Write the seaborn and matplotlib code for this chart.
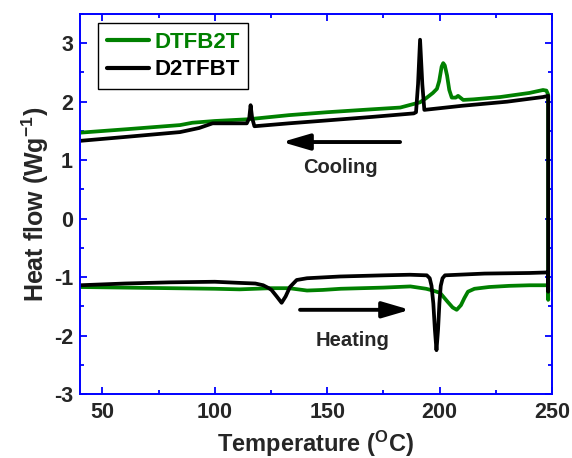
import matplotlib
matplotlib.use("Agg")
import matplotlib.pyplot as plt
from matplotlib.ticker import MultipleLocator, FixedLocator
import numpy as np
import pandas as pd
import seaborn as sns

# DSC traces: heating scan (40 -> 250 °C) then cooling scan (250 -> 40 °C)
dtfb2t_temp = [40, 60, 80, 100, 111, 125, 133, 141, 148, 156, 175, 187, 194, 197,
               200.2, 203.5, 205.8, 207.6, 209.5, 211, 212.6, 215.5, 222, 231, 240,
               248.2, 248.3,
               248.3, 247.5, 246, 240, 227, 215, 210.5, 209.2, 208.2, 207.2, 205.4,
               204.3, 203.3, 202.3, 201.6, 200.9, 199.8, 198.8, 197, 194, 191.3,
               182.5, 170, 150, 133, 115, 100, 90, 84.5, 61, 40]
dtfb2t_flow = [-1.17, -1.18, -1.19, -1.20, -1.21, -1.19, -1.19, -1.23, -1.22, -1.20,
               -1.18, -1.16, -1.20, -1.23, -1.27, -1.42, -1.52, -1.56, -1.48, -1.36,
               -1.25, -1.20, -1.17, -1.15, -1.14, -1.14, -1.39,
               2.12, 2.19, 2.20, 2.15, 2.08, 2.04, 2.03, 2.07, 2.10, 2.07, 2.07,
               2.20, 2.45, 2.62, 2.66, 2.60, 2.35, 2.22, 2.15, 2.06, 1.99,
               1.90, 1.87, 1.82, 1.77, 1.70, 1.67, 1.64, 1.60, 1.53, 1.47]

d2tfbt_temp = [40, 60, 80, 100, 111.4, 118, 121.5, 124, 125.2, 127.5, 129.7, 131.5,
               133.4, 136.4, 141, 155.7, 175, 186.8, 194.3, 195.6, 196.4, 197.2,
               197.9, 198.6, 199.3, 199.9, 200.5, 201.3, 202.4, 220, 240, 248.2, 248.3,
               248.3, 246, 230, 210, 193.2, 192.3, 191.3, 190.4, 189.5, 188.5, 170,
               150, 133, 117.6, 116.6, 115.9, 115.3, 114.2, 110, 99, 93, 84.5, 61, 40]
d2tfbt_flow = [-1.14, -1.11, -1.09, -1.08, -1.10, -1.11, -1.14, -1.19, -1.22, -1.33,
               -1.44, -1.33, -1.17, -1.05, -1.02, -0.99, -0.97, -0.96, -0.97, -1.02,
               -1.15, -1.45, -1.90, -2.25, -1.90, -1.45, -1.15, -1.02, -0.97, -0.94,
               -0.93, -0.92, -1.25,
               2.10, 2.08, 2.00, 1.93, 1.86, 2.30, 3.06, 2.30, 1.82, 1.80, 1.74,
               1.68, 1.63, 1.58, 1.72, 1.94, 1.72, 1.63, 1.63, 1.63, 1.55, 1.48,
               1.40, 1.33]

series_names = ["DTFB2T", "D2TFBT"]
series_colors = ["#008000", "#000000"]
x_ticks = [50, 100, 150, 200, 250]
y_ticks = [-3, -2, -1, 0, 1, 2, 3]

frames = []
for name, t, f in [(series_names[0], dtfb2t_temp, dtfb2t_flow),
                   (series_names[1], d2tfbt_temp, d2tfbt_flow)]:
    frames.append(pd.DataFrame({"T": t, "flow": f, "sample": name,
                                "step": np.arange(len(t))}))
df = pd.concat(frames, ignore_index=True)

sns.set_style("ticks")
plt.rcParams["font.family"] = ["Liberation Sans", "DejaVu Sans"]
plt.rcParams["font.weight"] = "bold"
plt.rcParams["axes.unicode_minus"] = False
plt.rcParams["mathtext.fontset"] = "custom"
plt.rcParams["mathtext.rm"] = "Liberation Sans:bold"
plt.rcParams["mathtext.bf"] = "Liberation Sans:bold"

fig = plt.figure(figsize=(5.72, 4.58), dpi=100)
ax = fig.add_axes([80 / 572, 1 - 394 / 458, 472 / 572, 380 / 458])

sns.lineplot(data=df, x="T", y="flow", hue="sample", hue_order=series_names,
             palette=series_colors, sort=False, estimator=None, units="sample",
             lw=2.7, ax=ax, legend=True)

ax.set_xlim(40, 250)
ax.set_ylim(-3, 3.5)
ax.xaxis.set_major_locator(FixedLocator(x_ticks))
ax.xaxis.set_minor_locator(MultipleLocator(25))
ax.yaxis.set_major_locator(FixedLocator(y_ticks))
ax.yaxis.set_minor_locator(MultipleLocator(0.5))

blue = "#0000ff"
for s in ax.spines.values():
    s.set_color(blue)
    s.set_linewidth(1.4)
    s.set_visible(True)
ax.tick_params(which="both", direction="in", color=blue, width=1.3,
               top=True, right=True, labelsize=15.5)
ax.tick_params(which="major", length=5)
ax.tick_params(which="minor", length=3)
ax.tick_params(axis="x", which="major", pad=6)
ax.tick_params(axis="y", which="major", pad=5)
for lab in ax.get_xticklabels() + ax.get_yticklabels():
    lab.set_fontweight("bold")

ax.set_xlabel(r"Temperature ($\mathrm{^{O}}$C)", fontsize=17, fontweight="bold",
              labelpad=4)
ax.set_ylabel(r"Heat flow (Wg$\mathrm{^{-1}}$)", fontsize=18, fontweight="bold",
              labelpad=2)

leg = ax.legend(loc="upper left", bbox_to_anchor=(0.0388, 0.9755), borderaxespad=0,
                fontsize=16, frameon=True, fancybox=False, handlelength=1.9,
                handletextpad=0.25, labelspacing=0.3, borderpad=0.38)
leg.get_frame().set_edgecolor("black")
leg.get_frame().set_linewidth(1.0)
leg.get_frame().set_alpha(1)
for txt, c in zip(leg.get_texts(), series_colors):
    txt.set_color(c)
    txt.set_fontweight("bold")
for h in leg.get_lines():
    h.set_linewidth(3.0)

arrow = dict(arrowstyle="-|>,head_length=0.75,head_width=0.22", lw=2.8,
             color="black", mutation_scale=22, shrinkA=0, shrinkB=0)
ax.annotate("", xy=(129.9, 1.31), xytext=(182.4, 1.31), arrowprops=arrow)
ax.annotate("", xy=(186.8, -1.56), xytext=(137.9, -1.56), arrowprops=arrow)
ax.text(155.7, 0.88, "Cooling", fontsize=14.5, fontweight="bold",
        ha="center", va="center")
ax.text(161.2, -2.08, "Heating", fontsize=14.5, fontweight="bold",
        ha="center", va="center")

fig.savefig("out.png", dpi=100)
